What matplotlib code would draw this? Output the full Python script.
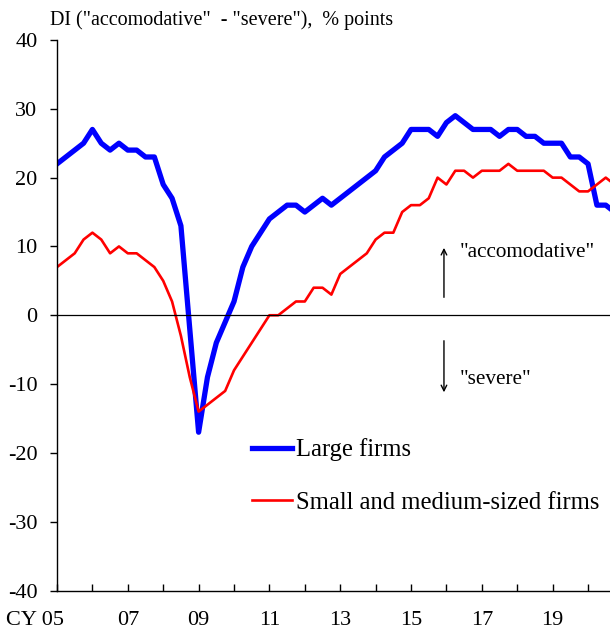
import matplotlib
matplotlib.use("Agg")
import matplotlib.pyplot as plt
import numpy as np

plt.rcParams['font.family'] = ['Liberation Serif', 'DejaVu Serif']
plt.rcParams['axes.unicode_minus'] = False

# Quarterly data, 2005 Q1 onwards
start_year = 2005
large_firms = [22, 23, 24, 25, 27, 25, 24, 25, 24, 24, 23, 23, 19, 17, 13, -2,
               -17, -9, -4, -1, 2, 7, 10, 12, 14, 15, 16, 16, 15, 16, 17, 16,
               17, 18, 19, 20, 21, 23, 24, 25, 27, 27, 27, 26, 28, 29, 28, 27,
               27, 27, 26, 27, 27, 26, 26, 25, 25, 25, 23, 23, 22, 16, 16, 15]
small_medium = [7, 8, 9, 11, 12, 11, 9, 10, 9, 9, 8, 7, 5, 2, -3, -9,
                -14, -13, -12, -11, -8, -6, -4, -2, 0, 0, 1, 2, 2, 4, 4, 3,
                6, 7, 8, 9, 11, 12, 12, 15, 16, 16, 17, 20, 19, 21, 21, 20,
                21, 21, 21, 22, 21, 21, 21, 21, 20, 20, 19, 18, 18, 19, 20, 19]
tick_years = list(range(2005, 2021))
label_years = [2007, 2009, 2011, 2013, 2015, 2017, 2019]
label_texts = ["07", "09", "11", "13", "15", "17", "19"]
y_ticks = [-40, -30, -20, -10, 0, 10, 20, 30, 40]

x = start_year + np.arange(len(large_firms)) * 0.25

fig = plt.figure(figsize=(6.10, 6.35), dpi=100)
ax = fig.add_axes([57/610, 44.5/635, 553/610, 550.5/635])

ax.plot(x, large_firms, color='#0000FF', lw=3.8, label='Large firms')
ax.plot(x, small_medium, color='#FF0000', lw=1.9, label='Small and medium-sized firms')
ax.axhline(0, color='black', lw=0.9)

ax.set_xlim(2005, 2020.62)
ax.set_ylim(-40, 40)
for s in ['top', 'right']:
    ax.spines[s].set_visible(False)
for s in ['left', 'bottom']:
    ax.spines[s].set_linewidth(1.0)

ax.set_yticks(y_ticks)
ax.tick_params(axis='y', direction='out', length=5, width=1, labelsize=16, pad=9)
ax.set_xticks(tick_years)
ax.set_xticklabels([])
ax.tick_params(axis='x', direction='in', length=5, width=1)

trans = ax.get_xaxis_transform()
for yr, t in zip(label_years, label_texts):
    ax.text(yr, -0.054, t, transform=trans, ha='center', va='center', fontsize=16)
ax.text(2005.2, -0.054, "CY 05", transform=trans, ha='right', va='center', fontsize=16)

fig.text(50/610, 1 - 20/635, 'DI ("accomodative"  - "severe"),  % points',
         ha='left', va='center', fontsize=14.5)

ax.annotate('', xy=(2015.93, 10.2), xytext=(2015.93, 2.2),
            arrowprops=dict(arrowstyle='->', color='black', lw=1.0))
ax.annotate('', xy=(2015.93, -11.6), xytext=(2015.93, -3.3),
            arrowprops=dict(arrowstyle='->', color='black', lw=1.0))
ax.text(2016.38, 9.1, '"accomodative"', ha='left', va='center', fontsize=15.3)
ax.text(2016.38, -9.4, '"severe"', ha='left', va='center', fontsize=15.3)

ax.legend(loc='center left', bbox_to_anchor=(0.352, 0.208), frameon=False,
          fontsize=17.7, handlelength=1.65, handletextpad=0.17, labelspacing=1.22,
          borderpad=0, borderaxespad=0)

fig.savefig('out.png', dpi=100)
